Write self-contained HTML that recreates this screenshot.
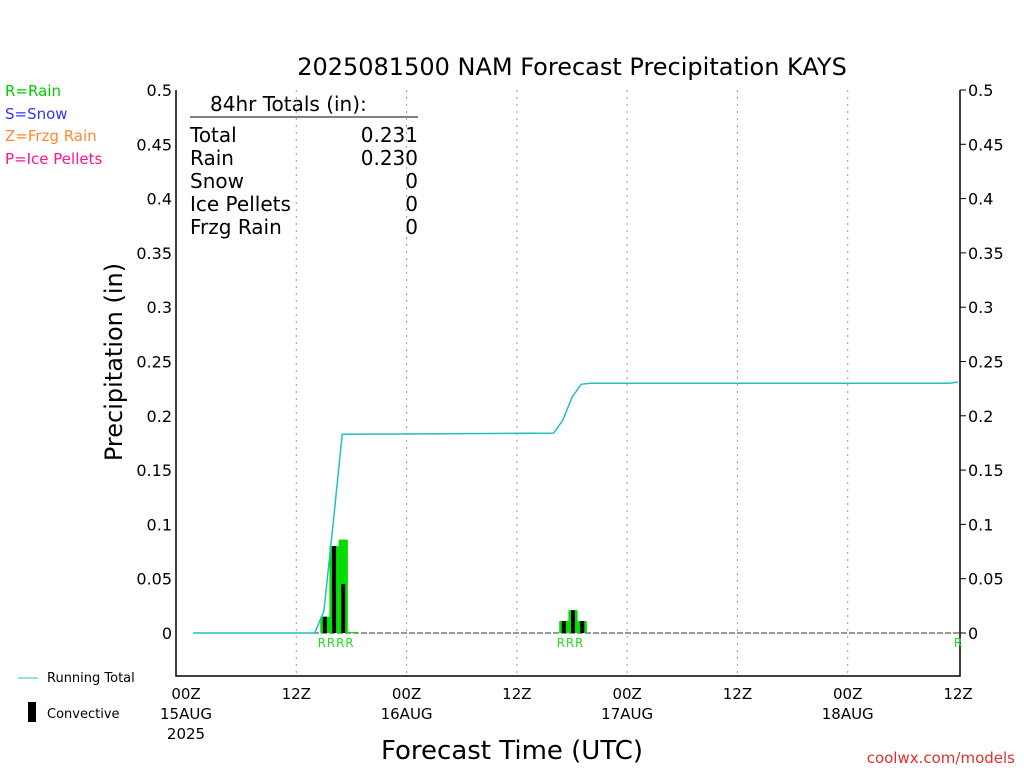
<!DOCTYPE html>
<html><head><meta charset="utf-8"><style>
body{margin:0;background:#fff;width:1024px;height:768px;overflow:hidden}
svg text{font-family:"DejaVu Sans","Liberation Sans",sans-serif}
</style></head><body>
<svg id="c" width="1024" height="768">
<text x="572" y="75" font-size="24" text-anchor="middle">2025081500 NAM Forecast Precipitation KAYS</text>
<g font-size="15">
<text x="5" y="96" fill="#00cc00">R=Rain</text>
<text x="5" y="119" fill="#3333ff">S=Snow</text>
<text x="5" y="141" fill="#ff8833">Z=Frzg Rain</text>
<text x="5" y="164" fill="#ff1493">P=Ice Pellets</text>
</g>
<g font-size="20">
<text x="210" y="111">84hr Totals (in):</text>
<line x1="190" y1="117" x2="418" y2="117" stroke="#000"/>
<text x="190" y="142">Total</text><text x="418" y="142" text-anchor="end">0.231</text>
<text x="190" y="165">Rain</text><text x="418" y="165" text-anchor="end">0.230</text>
<text x="190" y="188">Snow</text><text x="418" y="188" text-anchor="end">0</text>
<text x="190" y="211">Ice Pellets</text><text x="418" y="211" text-anchor="end">0</text>
<text x="190" y="234">Frzg Rain</text><text x="418" y="234" text-anchor="end">0</text>
</g>
<text transform="translate(122,362) rotate(-90)" font-size="24" text-anchor="middle">Precipitation (in)</text>
<text x="512" y="759" font-size="26" text-anchor="middle">Forecast Time (UTC)</text>
<text x="1015" y="763" font-size="15" fill="#e03030" text-anchor="end">coolwx.com/models</text>
<g font-size="13">
<line x1="18" y1="678" x2="38" y2="678" stroke="#20c0c0"/>
<text x="47" y="682">Running Total</text>
<rect x="28" y="702" width="8" height="20" fill="#000"/>
<text x="47" y="718">Convective</text>
</g>
<g id="plot"></g>
</svg>
<script>
const hours=[15,16,17,18,41,42,43];
const totalPrecip=[0.015,0.08,0.086,0.001,0.011,0.021,0.011];
const convPrecip=[0.015,0.08,0.045,0,0.011,0.021,0.011];
const runHours=[0,14,15,16,17,40,41,42,43,44,83,84];
const runTotal=[0,0,0.02,0.1,0.183,0.184,0.196,0.217,0.229,0.23,0.23,0.231];
const yTicks=["0","0.05","0.1","0.15","0.2","0.25","0.3","0.35","0.4","0.45","0.5"];
const xTickHours=[0,12,24,36,48,60,72,84];
const xTickLabels=["00Z","12Z","00Z","12Z","00Z","12Z","00Z","12Z"];
const xDateLabels=["15AUG","","16AUG","","17AUG","","18AUG",""];
const NS="http://www.w3.org/2000/svg";
const g=document.getElementById('plot');
const X=h=>186+h*(772/84);
const Y=v=>633-v*1086;
function el(t,a,txt){const e=document.createElementNS(NS,t);for(const k in a)e.setAttribute(k,a[k]);if(txt!==undefined)e.textContent=txt;g.appendChild(e);return e;}
let e;
e=el('path',{d:'M176,90 V676 H960 V90',fill:'none',stroke:'#000','stroke-width':1.5});


xTickHours.forEach((h,i)=>{
 if(i>0&&i<xTickHours.length-1){e=el('line',{x1:X(h),y1:90,x2:X(h),y2:676,stroke:'#999','stroke-dasharray':'2,5'});
 
 }
 e=el('text',{x:X(h),y:699,'font-size':15,'text-anchor':'middle'},xTickLabels[i]);
 
 
 if(xDateLabels[i]){e=el('text',{x:X(h),y:719,'font-size':15,'text-anchor':'middle'},xDateLabels[i]);
 
 }
});
e=el('text',{x:X(0),y:739,'font-size':15,'text-anchor':'middle'},'2025');


yTicks.forEach(t=>{const y=Y(parseFloat(t));
 e=el('text',{x:172,y:y+6,'font-size':16,'text-anchor':'end'},t);
 
 
 e=el('text',{x:968,y:y+6,'font-size':16},t);
 
 
 e=el('line',{x1:960,y1:y,x2:966,y2:y,stroke:'#000'});
 
 
});
e=el('line',{x1:193,y1:Y(0),x2:960,y2:Y(0),stroke:'#333','stroke-dasharray':'6,2'});


const bw=772/84;
hours.forEach((h,i)=>{
 const x=X(h)-bw/2+1;
 e=el('rect',{x:x,y:Y(totalPrecip[i]),width:bw,height:Y(0)-Y(totalPrecip[i]),fill:'#00dd00'});
 
 
 if(convPrecip[i]>0){e=el('rect',{x:x+bw/2-2,y:Y(convPrecip[i]),width:4,height:Y(0)-Y(convPrecip[i]),fill:'#000'});
 
 }
 e=el('text',{x:x+bw/2-3,y:647,'font-size':12,fill:'#22dd22','text-anchor':'middle'},'R');
 
 
});
e=el('text',{x:958,y:647,'font-size':12,fill:'#22dd22','text-anchor':'middle'},'R');


e=el('polyline',{points:runHours.map((h,i)=>(i===0?193:X(h))+','+Y(runTotal[i])).join(' '),fill:'none',stroke:'#20c0c0','stroke-width':1.5});


</script>
</body></html>
